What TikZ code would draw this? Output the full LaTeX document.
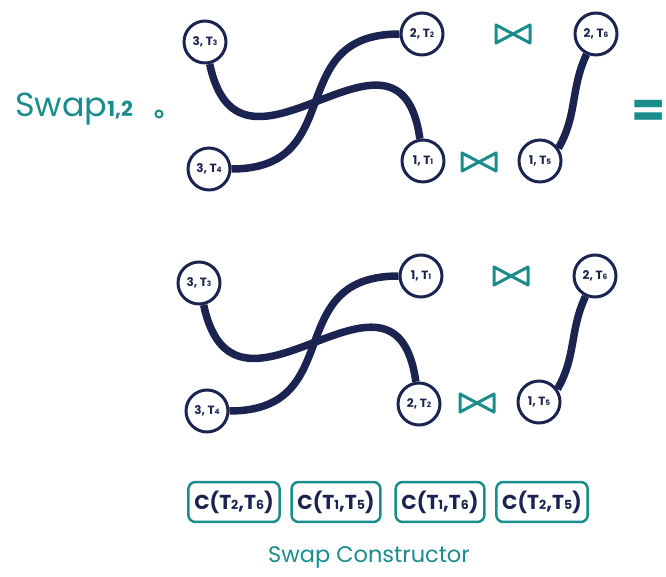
\documentclass[tikz,border=0pt]{standalone}
\usepackage{fontspec}
\usepackage{graphicx}
\setmainfont{Poppins}
\usetikzlibrary{shapes.geometric}
\definecolor{navy}{RGB}{27,36,80}
\definecolor{tealc}{RGB}{26,140,140}
\tikzstyle{stnode} = [circle, 
minimum size=0.84cm, 
inner sep=0pt, 
draw=navy, 
line width=0.06cm, 
fill=white, 
text=navy, 
font=\bfseries\fontsize{6.8}{7}\selectfont]
\tikzstyle{link} = [navy, line width=0.15cm]
\tikzstyle{cbox} = [rectangle, 
rounded corners=0.14cm, 
minimum width=1.76cm, 
minimum height=0.8cm, 
draw=tealc, 
line width=0.05cm, 
text=navy, 
font=\bfseries\fontsize{11.5}{12}\selectfont]
\tikzstyle{tealtext} = [text=tealc, inner sep=0pt]
\tikzset{bowtie/.pic={
    \draw [tealc, line width=0.06cm, line join=round] (-17,9) -- (17,-9) -- (17,9) -- (-17,-9) -- cycle;
}}
\newcommand{\sub}[1]{\scalebox{0.62}{#1}}

\begin{document}
\begin{tikzpicture}[x=0.02cm, y=0.02cm]
    \useasboundingbox (0,0) rectangle (666,-577);

    \node (swap) [tealtext, anchor=base west, font=\fontsize{19}{20}\selectfont] at (15,-117) {Swap\sub{\bfseries 1,2}};
    \node (comp) [circle, draw=tealc, line width=0.04cm, minimum size=0.14cm, inner sep=0pt] at (159,-114) {};
    \node (eq) [tealtext, anchor=east, font=\bfseries\fontsize{28}{28}\selectfont] at (666,-114) {=};

    % Before the swap
    \node (t3) [stnode] at (205,-42) {3, T\sub{3}};
    \node (t4) [stnode] at (209,-169) {3, T\sub{4}};
    \node (t2) [stnode] at (422,-34) {2, T\sub{2}};
    \node (t1) [stnode] at (423,-161) {1, T\sub{1}};
    \node (t6) [stnode] at (596,-34) {2, T\sub{6}};
    \node (t5) [stnode] at (540,-161) {1, T\sub{5}};
    \pic at (513,-34) {bowtie};
    \pic at (479,-162) {bowtie};

    \draw [link] (t3) to[out=-78, in=98, looseness=1.7] (t1);
    \draw [link] (t4) to[out=0, in=180, looseness=1.4] (t2);
    \draw [link] (t5.35) to[out=60, in=-115] (t6);

    % After the swap
    \node (b3) [stnode] at (199,-283) {3, T\sub{3}};
    \node (b4) [stnode] at (207,-411) {3, T\sub{4}};
    \node (b1) [stnode] at (421,-276) {1, T\sub{1}};
    \node (b2) [stnode] at (419,-404) {2, T\sub{2}};
    \node (b6) [stnode] at (595,-276) {2, T\sub{6}};
    \node (b5) [stnode] at (539,-402) {1, T\sub{5}};
    \pic at (511,-276) {bowtie};
    \pic at (477,-403) {bowtie};

    \draw [link] (b3) to[out=-78, in=98, looseness=1.7] (b2);
    \draw [link] (b4) to[out=0, in=180, looseness=1.4] (b1);
    \draw [link] (b5.35) to[out=60, in=-115] (b6);

    \node (c1) [cbox] at (234,-502) {C(T\sub{2},T\sub{6})};
    \node (c2) [cbox] at (336,-502) {C(T\sub{1},T\sub{5})};
    \node (c3) [cbox] at (440,-502) {C(T\sub{1},T\sub{6})};
    \node (c4) [cbox] at (542,-502) {C(T\sub{2},T\sub{5})};

    \node (ctor) [tealtext, font=\fontsize{12.8}{15}\selectfont] at (369,-557) {Swap Constructor};
\end{tikzpicture}
\end{document}
